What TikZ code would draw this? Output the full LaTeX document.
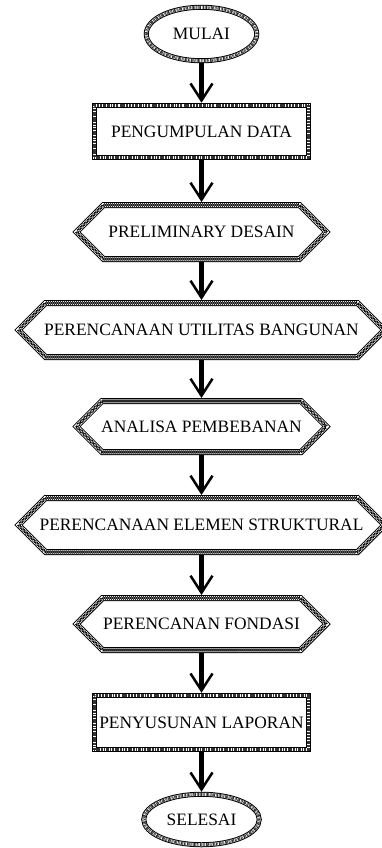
\documentclass[tikz,border=0pt]{standalone}
\usepackage{fontspec}
\setmainfont{Liberation Serif}
\usetikzlibrary{arrows.meta,decorations.pathmorphing,shapes.geometric}

\tikzset{
 lbl/.style={font=\fontsize{17.4}{20}\selectfont, inner sep=0pt, text=black},
 noiseborder/.style={draw=black, line width=5pt,
   postaction={draw=white, line width=3pt},
   postaction={draw=black!80, line width=3pt, dash pattern=on 0.8pt off 0.6pt on 0.4pt off 1.1pt on 1.5pt off 0.5pt on 0.6pt off 0.9pt}},
 ovalnode/.style={lbl, ellipse, noiseborder},
 boxnode/.style={lbl, rectangle, noiseborder},
 hexnode/.style={lbl, rectangle, outer sep=3pt},
 hexborder/.style={draw=black, line width=6pt, line join=miter,
   postaction={draw=white, line width=4pt, line join=miter},
   postaction={draw=black, line width=0.6pt, decorate, decoration={zigzag, amplitude=1.5pt, segment length=4pt}},
   postaction={draw=black, line width=0.6pt, decorate, decoration={zigzag, amplitude=1.5pt, segment length=4pt, mirror}}},
 flowarrow/.style={line width=5pt, -{Straight Barb[length=17pt, width=22pt, line width'=2.5pt]}},
}
\newcommand\hexdraw[3]{\draw[hexborder, shift={(#1.center)}] (-#2,#3) -- (#2,#3) -- ({#2+#3},0) -- (#2,-#3) -- (-#2,-#3) -- ({-#2-#3},0) -- cycle;}

\begin{document}
\begin{tikzpicture}[x=1pt,y=1pt]
\clip (0,0) rectangle (382,-848);
\fill[white] (0,0) rectangle (382,-848);

\node[ovalnode, minimum width=110.5pt, minimum height=53.5pt] (mulai) at (201.5,-34) {MULAI};
\node[boxnode, minimum width=214.5pt, minimum height=52.5pt] (data) at (201.5,-131.5) {PENGUMPULAN DATA};
\node[hexnode, minimum width=196pt, minimum height=54pt] (prelim) at (201.5,-232) {PRELIMINARY DESAIN};
\node[hexnode, minimum width=312pt, minimum height=54pt] (util) at (201.5,-330) {PERENCANAAN UTILITAS BANGUNAN};
\node[hexnode, minimum width=199pt, minimum height=51pt] (analisa) at (201.5,-426.5) {ANALISA PEMBEBANAN};
\node[hexnode, minimum width=312pt, minimum height=54pt] (elemen) at (201.5,-525) {PERENCANAAN ELEMEN STRUKTURAL};
\node[hexnode, minimum width=198pt, minimum height=52pt] (fondasi) at (201.5,-624) {PERENCANAN FONDASI};
\node[boxnode, minimum width=214.5pt, minimum height=54.5pt] (lapor) at (201.5,-722.5) {PENYUSUNAN LAPORAN};
\node[ovalnode, minimum width=115.5pt, minimum height=50.5pt] (selesai) at (201.5,-819.5) {SELESAI};

\hexdraw{prelim}{98}{27}
\hexdraw{util}{156}{27}
\hexdraw{analisa}{99.5}{25.5}
\hexdraw{elemen}{156}{27}
\hexdraw{fondasi}{99}{26}

\draw[flowarrow] (mulai.south) -- (data.north);
\draw[flowarrow] (data.south) -- (prelim.north);
\draw[flowarrow] (prelim.south) -- (util.north);
\draw[flowarrow] (util.south) -- (analisa.north);
\draw[flowarrow] (analisa.south) -- (elemen.north);
\draw[flowarrow] (elemen.south) -- (fondasi.north);
\draw[flowarrow] (fondasi.south) -- (lapor.north);
\draw[flowarrow] (lapor.south) -- (selesai.north);
\end{tikzpicture}
\end{document}
